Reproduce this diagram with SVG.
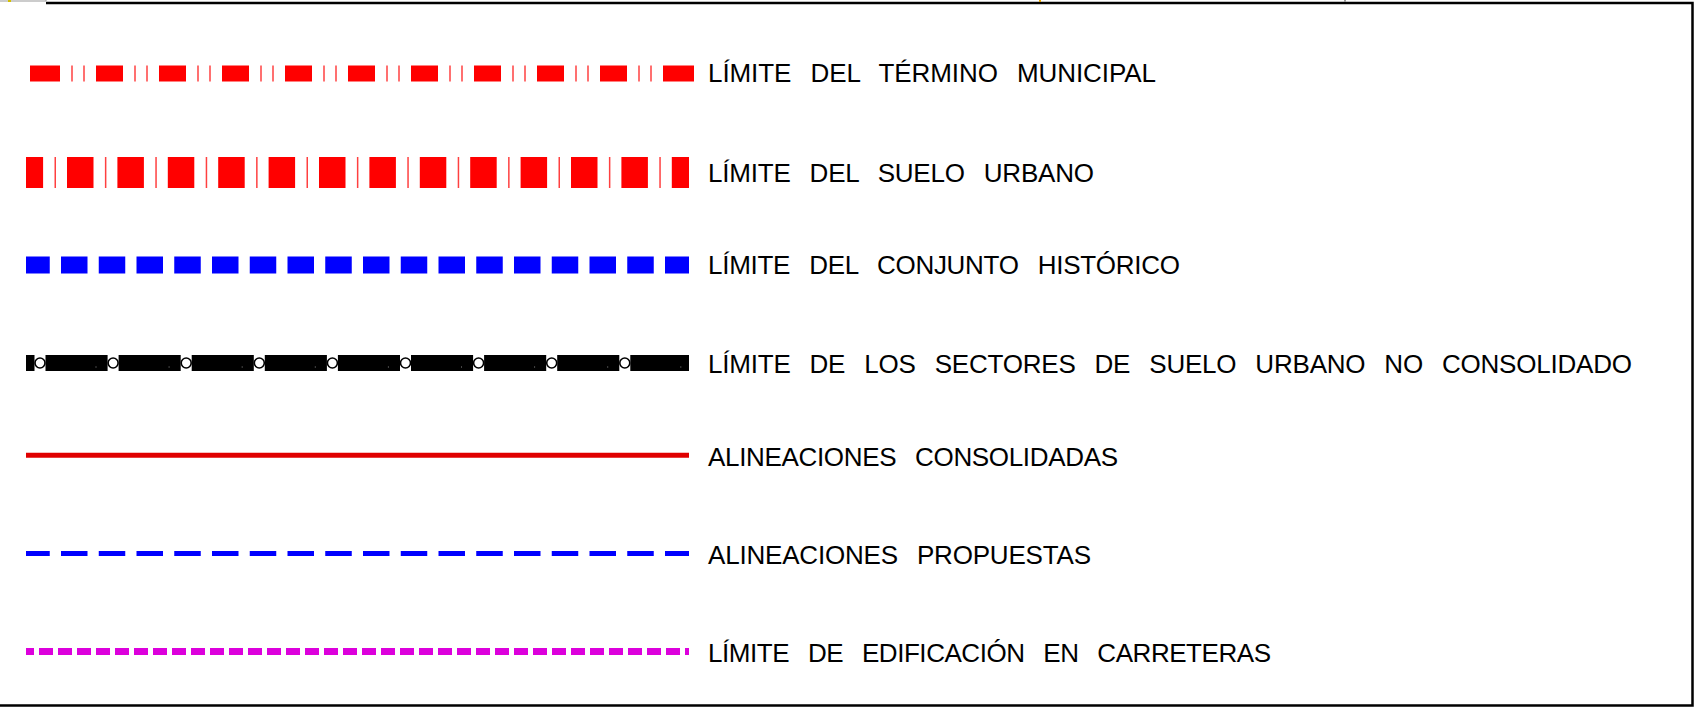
<svg xmlns="http://www.w3.org/2000/svg" width="1694" height="707" viewBox="0 0 1694 707">
  <style>
    .lbl { font-family: "Liberation Sans", Arial, sans-serif; font-size: 26px; fill: #000; word-spacing: 12px; letter-spacing: 1px; }
    .frame { stroke: #000; stroke-width: 2.5; fill: none; }
    .red { stroke: #ff0000; fill: none; }
    .blue { stroke: #0000ff; fill: none; }
  </style>
  <rect width="1694" height="707" fill="#fff"/>

  <g id="frame">
    <path class="frame" d="M46 3H1692.5V705.5H0"/>
    <path d="M0 1H46V0" stroke="#999" stroke-width="1" fill="none"/>
    <rect x="8" y="0" width="3" height="2" fill="#d4c000"/>
    <rect x="1039" y="0" width="2" height="2" fill="#e0a000"/>
    <rect x="1344" y="0" width="2" height="2" fill="#999"/>
  </g>

  <g id="limite-termino-municipal">
    <line class="red" x1="33" y1="73.5" x2="690" y2="73.5" stroke-width="16" stroke-dasharray="27 36"/>
    <path d="M30 65.5h3v16h-3z M690 65.5h4v16h-4z" fill="#ff0000"/>
    <line class="red" x1="71.25" y1="73.5" x2="660" y2="73.5" stroke-width="16" stroke-opacity="0.75" stroke-dasharray="1.5 10.5 1.5 49.5"/>
    <text class="lbl" x="708" y="82" textLength="449" lengthAdjust="spacing">LÍMITE DEL TÉRMINO MUNICIPAL</text>
  </g>

  <g id="limite-suelo-urbano">
    <line class="red" x1="26" y1="172.5" x2="689" y2="172.5" stroke-width="31" stroke-dasharray="26.5 23.9" stroke-dashoffset="9.4"/>
    <line class="red" x1="26" y1="172.5" x2="689" y2="172.5" stroke-width="31" stroke-opacity="0.75" stroke-dasharray="1.5 48.9" stroke-dashoffset="21.9"/>
    <text class="lbl" x="708" y="182" textLength="387" lengthAdjust="spacing">LÍMITE DEL SUELO URBANO</text>
  </g>

  <g id="limite-conjunto-historico">
    <line class="blue" x1="26" y1="265" x2="689" y2="265" stroke-width="17" stroke-dasharray="26.5 11.25" stroke-dashoffset="2.75"/>
    <text class="lbl" x="708" y="273.5" textLength="473" lengthAdjust="spacing">LÍMITE DEL CONJUNTO HISTÓRICO</text>
  </g>

  <g id="limite-sectores-suno">
    <line x1="26" y1="363" x2="689" y2="363" stroke="#000" stroke-width="16" stroke-dasharray="62.1 11" stroke-dashoffset="53.6"/>
    <line x1="26" y1="367" x2="689" y2="367" stroke="#aaa" stroke-width="1" stroke-dasharray="1 72.1" stroke-dashoffset="-69.5" stroke-opacity="0.8"/>
    <g fill="#fff" stroke="#000" stroke-width="1.6">
      <circle cx="40" cy="363" r="5"/>
      <circle cx="113.1" cy="363" r="5"/>
      <circle cx="186.2" cy="363" r="5"/>
      <circle cx="259.3" cy="363" r="5"/>
      <circle cx="332.4" cy="363" r="5"/>
      <circle cx="405.5" cy="363" r="5"/>
      <circle cx="478.6" cy="363" r="5"/>
      <circle cx="551.7" cy="363" r="5"/>
      <circle cx="624.8" cy="363" r="5"/>
    </g>
    <text class="lbl" x="708" y="372.5" textLength="925" lengthAdjust="spacing">LÍMITE DE LOS SECTORES DE SUELO URBANO NO CONSOLIDADO</text>
  </g>

  <g id="alineaciones-consolidadas">
    <line x1="26" y1="455.3" x2="689" y2="455.3" stroke="#e00000" stroke-width="5"/>
    <text class="lbl" x="708" y="465.5" textLength="411" lengthAdjust="spacing">ALINEACIONES CONSOLIDADAS</text>
  </g>

  <g id="alineaciones-propuestas">
    <line class="blue" x1="26" y1="553.5" x2="689" y2="553.5" stroke-width="5" stroke-dasharray="26.5 11.25" stroke-dashoffset="2.75"/>
    <text class="lbl" x="708" y="563.5" textLength="384" lengthAdjust="spacing">ALINEACIONES PROPUESTAS</text>
  </g>

  <g id="limite-edificacion-carreteras">
    <line x1="26" y1="651.5" x2="689" y2="651.5" stroke="#dc00dc" stroke-width="7" stroke-dasharray="14 5" stroke-dashoffset="6"/>
    <text class="lbl" x="708" y="661.5" textLength="564" lengthAdjust="spacing">LÍMITE DE EDIFICACIÓN EN CARRETERAS</text>
  </g>
</svg>
